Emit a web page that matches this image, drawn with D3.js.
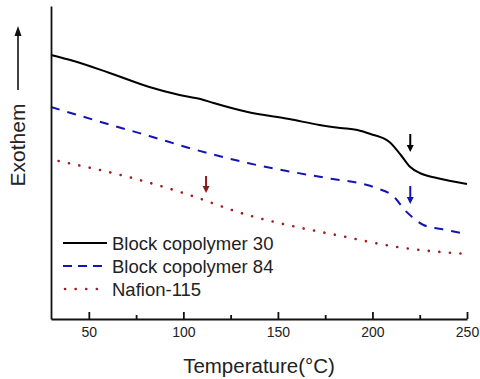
<!DOCTYPE html>
<html>
<head>
<meta charset="utf-8">
<script src="https://cdn.jsdelivr.net/npm/d3@7"></script>
<style>
  body { margin: 0; background: #fff; }
  svg { display: block; font-family: "Liberation Sans", Arial, sans-serif; }
</style>
</head>
<body>
<div id="chart"></div>
<script>
// data (heat flow in arbitrary units)
const tempBlock30 = [30, 42, 61, 82, 98, 109, 116, 134, 156, 172, 183, 192, 199, 209, 215, 220, 225, 234, 250];
const flowBlock30 = [2.64, 2.58, 2.46, 2.32, 2.24, 2.20, 2.16, 2.07, 2.00, 1.94, 1.91, 1.89, 1.85, 1.77, 1.64, 1.52, 1.46, 1.41, 1.35];

const tempBlock84 = [30, 60, 82, 105, 134, 179, 195, 202, 212, 217, 221, 227, 239, 250];
const flowBlock84 = [2.12, 1.95, 1.83, 1.70, 1.56, 1.40, 1.35, 1.31, 1.21, 1.09, 1.02, 0.94, 0.89, 0.85];

const tempNafion = [34, 73, 100, 134, 165, 181, 213, 250];
const flowNafion = [1.58, 1.41, 1.26, 1.04, 0.90, 0.84, 0.72, 0.65];

const seriesNames = ["Block copolymer 30", "Block copolymer 84", "Nafion-115"];
const seriesColors = ["#000000", "#1414b4", "#a31c1c"];
const seriesDash = [null, "9,8", "0.1,10.5"];

// transition markers: temperature, arrow top, arrow bottom
const arrowTemps = [220, 220, 112];
const arrowTops = [1.85, 1.33, 1.43];
const arrowBottoms = [1.67, 1.15, 1.26];
const arrowColors = ["#000000", "#1414b4", "#8b1a1a"];

const xTicks = [50, 100, 150, 200, 250];
const xMinorTicks = [75, 125, 175, 225];

const width = 480, height = 379;
const margin = { top: 6, right: 13, bottom: 60, left: 51 };
const innerWidth = width - margin.left - margin.right;
const innerHeight = height - margin.top - margin.bottom;

const svg = d3.select("#chart")
  .append("svg")
  .attr("width", width)
  .attr("height", height);

const inner = svg.append("g")
  .attr("transform", `translate(${margin.left}, ${margin.top})`);

// scales
const xScale = d3.scaleLinear().domain([30, 250]).range([0, innerWidth]);
const yScale = d3.scaleLinear().domain([0, 3.13]).range([innerHeight, 0]);

const series = [
  tempBlock30.map((t, i) => [t, flowBlock30[i]]),
  tempBlock84.map((t, i) => [t, flowBlock84[i]]),
  tempNafion.map((t, i) => [t, flowNafion[i]])
];

const line = d3.line()
  .x(d => xScale(d[0]))
  .y(d => yScale(d[1]))
  .curve(d3.curveMonotoneX);

series.forEach((pts, i) => {
  inner.append("path")
    .datum(pts)
    .attr("fill", "none")
    .attr("stroke", seriesColors[i])
    .attr("stroke-width", i === 2 ? 2.6 : 2)
    .attr("stroke-linecap", i === 2 ? "round" : "butt")
    .attr("stroke-dasharray", seriesDash[i])
    .attr("d", line);
});

// arrows
arrowTemps.forEach((t, i) => {
  const ax = xScale(t);
  const y0 = yScale(arrowTops[i]);
  const y1 = yScale(arrowBottoms[i]);
  inner.append("line")
    .attr("x1", ax).attr("x2", ax)
    .attr("y1", y0).attr("y2", y1 - 6)
    .attr("stroke", arrowColors[i])
    .attr("stroke-width", 2);
  inner.append("path")
    .attr("d", `M${ax - 3.5},${y1 - 7} L${ax + 3.5},${y1 - 7} L${ax},${y1} Z`)
    .attr("fill", arrowColors[i]);
});

// x axis
const xAxis = inner.append("g")
  .attr("transform", `translate(0, ${innerHeight})`)
  .call(d3.axisBottom(xScale)
    .tickValues(xTicks)
    .tickSizeInner(-7)
    .tickSizeOuter(0)
    .tickPadding(8))
  .attr("font-family", null);

xAxis.append("g")
  .call(d3.axisBottom(xScale)
    .tickValues(xMinorTicks)
    .tickSizeInner(-4)
    .tickSizeOuter(0)
    .tickFormat(""))
  .select(".domain").remove();

xAxis.selectAll("path, line")
  .attr("stroke", "#111")
  .attr("stroke-width", 1.8);
xAxis.selectAll("text")
  .attr("font-size", 14)
  .attr("fill", "#222");

// y axis (no ticks)
const yAxis = inner.append("g")
  .call(d3.axisLeft(yScale).tickValues([]).tickSizeOuter(0));
yAxis.select(".domain")
  .attr("stroke", "#111")
  .attr("stroke-width", 1.8);

// x label
svg.append("text")
  .attr("x", 259)
  .attr("y", 373)
  .attr("text-anchor", "middle")
  .attr("font-size", 20.5)
  .attr("fill", "#222")
  .text("Temperature(°C)");

// y label with arrow
svg.append("text")
  .attr("transform", "rotate(-90)")
  .attr("x", -145)
  .attr("y", 25)
  .attr("text-anchor", "middle")
  .attr("font-size", 21)
  .attr("fill", "#222")
  .text("Exothem");

svg.append("line")
  .attr("x1", 18).attr("x2", 18)
  .attr("y1", 90).attr("y2", 34)
  .attr("stroke", "#111")
  .attr("stroke-width", 1.6);
svg.append("path")
  .attr("d", "M14.5,36 L21.5,36 L18,26 Z")
  .attr("fill", "#111");

// legend
const legend = svg.append("g")
  .attr("transform", "translate(63, 243)");

seriesNames.forEach((name, i) => {
  const row = legend.append("g")
    .attr("transform", `translate(0, ${i * 23})`);

  row.append("line")
    .attr("x1", i === 2 ? 2 : 0)
    .attr("x2", 44)
    .attr("stroke", seriesColors[i])
    .attr("stroke-width", i === 2 ? 2.6 : 2)
    .attr("stroke-linecap", i === 2 ? "round" : "butt")
    .attr("stroke-dasharray", i === 1 ? "9,6" : seriesDash[i]);

  row.append("text")
    .attr("x", 49)
    .attr("y", 6.5)
    .attr("font-size", 18.5)
    .attr("fill", "#222")
    .text(name);
});
</script>
</body>
</html>
